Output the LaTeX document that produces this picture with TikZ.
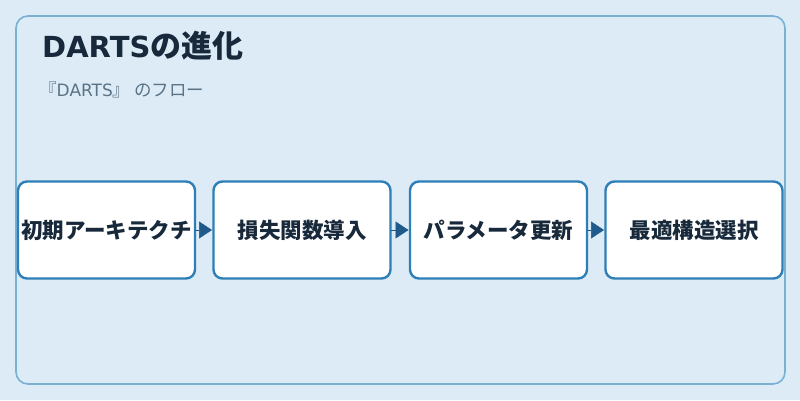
\documentclass[tikz,border=0pt]{standalone}
\usepackage{fontspec}
\setmainfont{Noto Sans CJK JP}
\newfontfamily\latinfont{DejaVu Sans}
\usetikzlibrary{arrows.meta}
\definecolor{bgc}{HTML}{DCEBF6}
\definecolor{framec}{HTML}{7AB0D4}
\definecolor{boxc}{HTML}{2E7FB8}
\definecolor{arrc}{HTML}{1F5A8A}
\definecolor{txtc}{HTML}{17293A}
\definecolor{subc}{HTML}{5B7386}
\tikzset{
  stepbox/.style={draw=boxc, line width=2.4pt, fill=white, rounded corners=9pt,
    minimum width=177pt, minimum height=97pt, inner sep=0pt, outer sep=0pt, text=txtc,
    font=\fontsize{21.5}{24}\selectfont\bfseries},
  flow/.style={draw=arrc, line width=0.5pt, -{Triangle[length=13pt,width=17pt]}, arrc, shorten >=1.5pt}
}
\begin{document}
\begin{tikzpicture}[x=1pt,y=-1pt]
\fill[bgc] (0,0) rectangle (800,400);
\useasboundingbox (0,0) rectangle (800,400);
\draw[framec, line width=1.6pt, rounded corners=12pt] (16,16) rectangle (785,384);
\node[anchor=base west, inner sep=0pt, text=txtc, font=\fontsize{31}{34}\selectfont\bfseries] (title) at (42,57) {{\latinfont\fontsize{29}{32}\selectfont DARTS}の進化};
\node[anchor=base west, inner sep=0pt, text=subc, font=\fontsize{17.5}{20}\selectfont] (sub) at (39,96) {『{\latinfont\fontsize{17}{20}\selectfont DARTS}』\hspace{4pt}のフロー};
\node[stepbox] (b1) at (106.5,230) {初期アーキテクチ};
\node[stepbox] (b2) at (302,230) {損失関数導入};
\node[stepbox] (b3) at (498.5,230) {パラメータ更新};
\node[stepbox] (b4) at (694,230) {最適構造選択};
\draw[flow] (b1.east) -- (b2.west);
\draw[flow] (b2.east) -- (b3.west);
\draw[flow] (b3.east) -- (b4.west);
\end{tikzpicture}
\end{document}
